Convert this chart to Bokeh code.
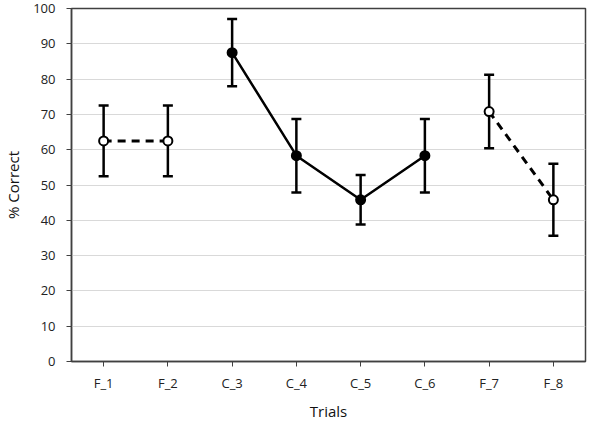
from bokeh.plotting import figure
from bokeh.models import ColumnDataSource, Whisker, FixedTicker
from bokeh.embed import file_html
from bokeh.resources import INLINE

trials = ["F_1", "F_2", "C_3", "C_4", "C_5", "C_6", "F_7", "F_8"]
pct = [62.5, 62.5, 87.5, 58.3, 45.8, 58.3, 70.8, 45.8]
err = [10.0, 10.0, 9.5, 10.4, 7.0, 10.4, 10.4, 10.2]
yticks = [0, 10, 20, 30, 40, 50, 60, 70, 80, 90, 100]

lo = [v - e for v, e in zip(pct, err)]
hi = [v + e for v, e in zip(pct, err)]
src = ColumnDataSource(dict(x=trials, y=pct, lo=lo, hi=hi))

p = figure(x_range=trials, y_range=(0, 100), width=591, height=425,
           output_backend="svg", toolbar_location=None,
           min_border_left=71, min_border_right=6, min_border_top=8, min_border_bottom=64)

p.xgrid.grid_line_color = None
p.ygrid.grid_line_color = "#d9d9d9"
p.ygrid.grid_line_width = 1
p.outline_line_color = "#404040"
p.outline_line_width = 1.5

p.yaxis.ticker = FixedTicker(ticks=yticks)
for ax in (p.xaxis[0], p.yaxis[0]):
    ax.axis_line_color = "#404040"
    ax.axis_line_width = 1.5
    ax.major_tick_line_color = "#404040"
    ax.major_tick_out = 5
    ax.major_tick_in = 0
    ax.minor_tick_line_color = None
    ax.major_label_text_font = "Open Sans"
    ax.major_label_text_font_size = "13px"
    ax.major_label_text_color = "#222222"
    ax.axis_label_text_font = "Open Sans"
    ax.axis_label_text_font_size = "15px"
    ax.axis_label_text_font_style = "normal"
    ax.axis_label_text_color = "#111111"
p.xaxis.axis_label = "Trials"
p.yaxis.axis_label = "% Correct"
p.xaxis.major_label_standoff = 7
p.yaxis.major_label_standoff = 11
p.xaxis.axis_label_standoff = 6
p.yaxis.axis_label_standoff = 7

w = Whisker(source=src, base="x", lower="lo", upper="hi", line_color="black", line_width=2.5)
w.upper_head.size = 10
w.lower_head.size = 10
w.upper_head.line_width = 2.5
w.lower_head.line_width = 2.5
p.add_layout(w)

p.line(trials[0:2], pct[0:2], line_color="black", line_width=3, line_dash="8 6")
p.line(trials[2:6], pct[2:6], line_color="black", line_width=2.5)
p.line(trials[6:8], pct[6:8], line_color="black", line_width=3, line_dash="8 6")

p.scatter(trials[0:2], pct[0:2], size=9, fill_color="white", line_color="black", line_width=2)
p.scatter(trials[6:8], pct[6:8], size=9, fill_color="white", line_color="black", line_width=2)
p.scatter(trials[2:6], pct[2:6], size=9, fill_color="black", line_color="black", line_width=2)

open("out.html", "w").write(file_html(p, INLINE))
